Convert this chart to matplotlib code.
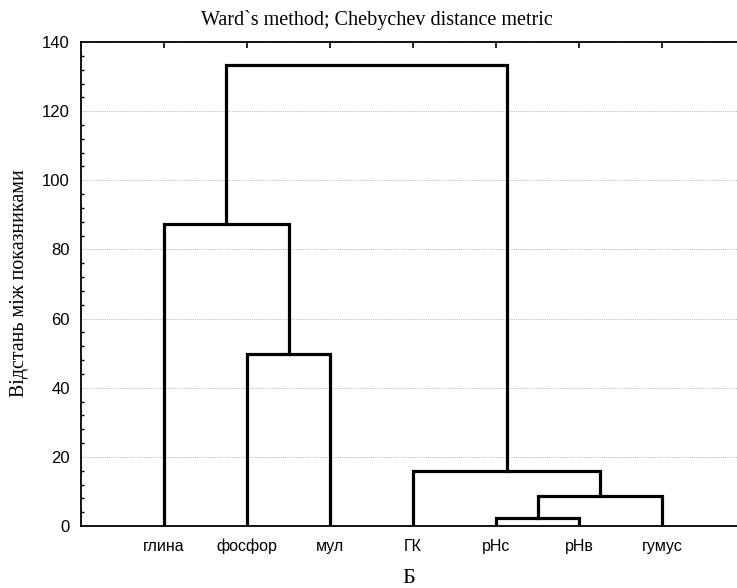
import numpy as np
import matplotlib.pyplot as plt
from matplotlib.ticker import MultipleLocator

# leaves in dendrogram order
labels = ['глина', 'фосфор', 'мул', 'ГК', 'рНс', 'рНв', 'гумус']

# merges: (child a, child b, height); ids >= len(labels) are earlier merges
merge_a = [4, 7, 3, 1, 0, 11]
merge_b = [5, 6, 8, 2, 10, 9]
merge_h = [2.2, 8.7, 15.9, 49.9, 87.4, 133.5]

fig = plt.figure(figsize=(7.37, 5.88), dpi=100)
ax = fig.add_axes([0.1099, 0.1054, 0.8901, 0.8231])

n = len(labels)
xpos = {i: i + 1.0 for i in range(n)}
ypos = {i: 0.0 for i in range(n)}
for k, (a, b, h) in enumerate(zip(merge_a, merge_b, merge_h)):
    xa, xb = xpos[a], xpos[b]
    ax.plot([xa, xa, xb, xb], [ypos[a], h, h, ypos[b]], color='black',
            lw=2.3, solid_joinstyle='miter', zorder=3)
    xpos[n + k] = (xa + xb) / 2
    ypos[n + k] = h

ax.set_xlim(0, 7.9)
ax.set_ylim(0, 140)
ax.set_xticks(np.arange(1, n + 1))
ax.set_xticklabels(labels, fontsize=11.5, family='Liberation Sans')
ax.tick_params(axis='x', bottom=False, top=True, direction='in', length=4,
               width=1.2, pad=9)
ax.set_yticks(np.arange(0, 141, 20))
ax.yaxis.set_minor_locator(MultipleLocator(4))
ax.tick_params(axis='y', which='major', length=0, pad=8, labelsize=12)
ax.tick_params(axis='y', which='minor', direction='in', length=2, width=1)
for lab in ax.get_yticklabels():
    lab.set_family('Liberation Sans')
ax.yaxis.grid(True, linestyle=(0, (1, 1.2)), color='#a8a8a8', lw=0.6)
ax.set_axisbelow(True)

ax.spines['right'].set_visible(False)
for s in ['left', 'top', 'bottom']:
    ax.spines[s].set_linewidth(1.3)

fig.text(0.512, 0.966, 'Ward`s method; Chebychev distance metric',
         ha='center', va='center', fontsize=14.5, family='Liberation Serif')
fig.text(0.026, 0.519, 'Відстань між показниками', rotation=90,
         ha='center', va='center', fontsize=14.3, family='Liberation Serif')
fig.text(0.554, 0.016, 'Б', ha='center', va='center', fontsize=16,
         family='Liberation Serif')

fig.savefig('out.png', dpi=100)
